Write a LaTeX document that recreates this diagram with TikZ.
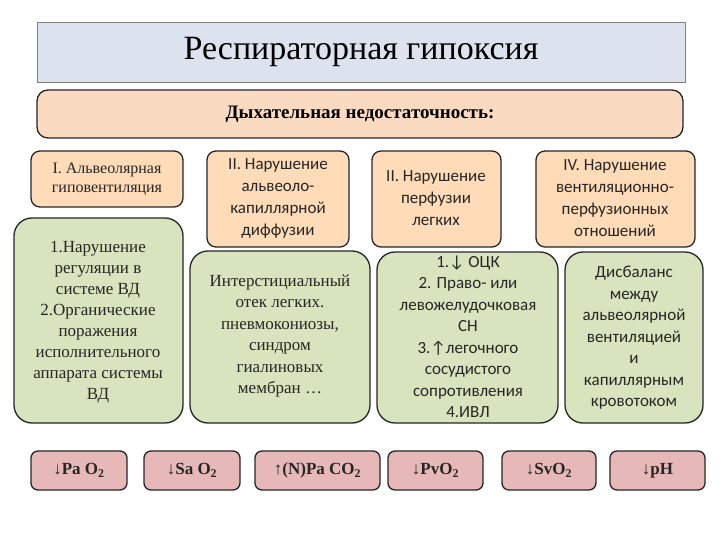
\documentclass[tikz,border=0pt]{standalone}
\usepackage{fontspec}
\setmainfont{Liberation Serif}
\newfontfamily\carl{Carlito}
\begin{document}
\begin{tikzpicture}[x=1pt,y=-1pt,
 bx/.style={draw=black!85,line width=1.3pt,rounded corners=9pt},
 org/.style={bx,fill=orange!28!white},
 grn/.style={bx,fill={rgb,255:red,215;green,228;blue,189},rounded corners=18pt},
 pnk/.style={bx,fill={rgb,255:red,230;green,185;blue,184},rounded corners=7pt},
 tx/.style={align=center,text=black!85,font=\fontsize{16}{19}\selectfont},
 ct/.style={align=center,text=black!85,font=\carl\fontsize{17}{22}\selectfont}]
\useasboundingbox (0,0) rectangle (720,540);
\fill[white] (0,0) rectangle (720,540);
\draw[fill={rgb,255:red,220;green,227;blue,238},draw=black!50] (37,22) rectangle (685,82);
\node (t) at (361,52) {\fontsize{34}{36}\selectfont Респираторная гипоксия};
\draw[bx,fill={rgb,255:red,251;green,218;blue,194},rounded corners=11pt] (37,90) rectangle (683,138);
\node[font=\bfseries\fontsize{19}{22}\selectfont] (s) at (360,114) {Дыхательная недостаточность:};
% orange
\draw[org] (31,151) rectangle (183,207);
\node[tx] (o1) at (107,179) {I. Альвеолярная\\гиповентиляция};
\draw[org] (207,151) rectangle (349,247);
\node[ct] (o2) at (278,198) {II. Нарушение\\альвеоло-\\капиллярной\\диффузии};
\draw[org] (372,151) rectangle (501,247);
\node[ct] (o3) at (436,198) {II. Нарушение\\перфузии\\легких};
\draw[org] (536,151) rectangle (695,247);
\node[ct] (o4) at (615,198) {IV. Нарушение\\вентиляционно-\\перфузионных\\отношений};
% green
\draw[grn] (14,218) rectangle (183,423);
\node[tx,font=\fontsize{17}{21}\selectfont] (g1) at (98,322) {1.Нарушение\\регуляции в\\системе ВД\\2.Органические\\поражения\\исполнительного\\аппарата системы\\ВД};
\draw[grn] (190,251) rectangle (370,423);
\node[tx,font=\fontsize{17}{21.5}\selectfont] (g2) at (280,336) {Интерстициальный\\отек легких.\\пневмокониозы,\\синдром\\гиалиновых\\мембран …};
\draw[grn] (377,252) rectangle (558,423);
\node[ct,font=\carl\fontsize{17}{21.5}\selectfont] (g3) at (468,337) {1.↓ ОЦК\\2. Право- или\\левожелудочковая\\СН\\3.↑легочного\\сосудистого\\сопротивления\\4.ИВЛ};
\draw[grn] (565,252) rectangle (703,423);
\node[ct,font=\carl\fontsize{17}{21.5}\selectfont] (g4) at (634,338) {Дисбаланс\\между\\альвеолярной\\вентиляцией\\и\\капиллярным\\кровотоком};
% pink
\foreach \a/\b/\t [count=\i] in {31/127/{↓Pa O\textsubscript{2}},144/240/{↓Sa O\textsubscript{2}},255/380/{↑(N)Pa CO\textsubscript{2}},388/483/{↓PvO\textsubscript{2}},502/596/{↓SvO\textsubscript{2}},610/705/{↓pH}}{
 \draw[pnk] (\a,451) rectangle (\b,490);
 \node[font=\bfseries\fontsize{17}{20}\selectfont,text=black!85] (p\i) at ({(\a+\b)/2},470.5) {\t};
}
\end{tikzpicture}
\end{document}
